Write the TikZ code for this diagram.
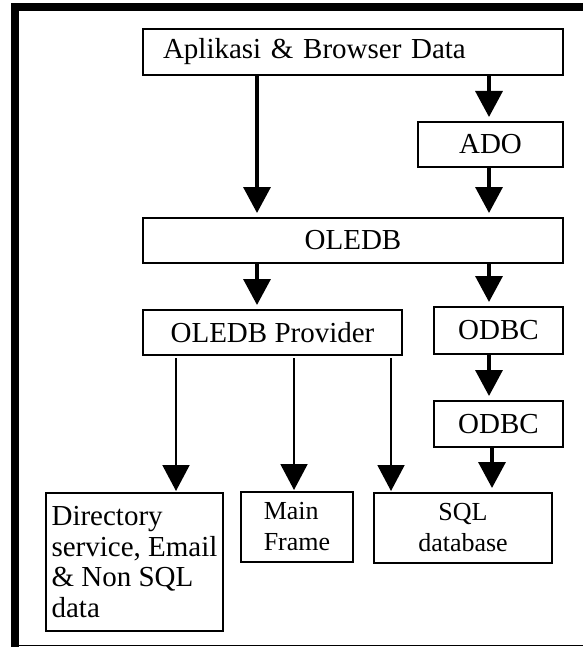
\documentclass[tikz,border=0pt]{standalone}
\usepackage{fontspec}
\setmainfont{Liberation Serif}
\usetikzlibrary{arrows.meta}
\begin{document}
\begin{tikzpicture}[x=1pt,y=-1pt,>={Triangle[length=26pt,width=27pt]},line join=miter,
	box/.style={draw,line width=2pt,inner sep=0pt,font=\fontsize{29}{30.5}\selectfont},
	small/.style={font=\fontsize{26}{31}\selectfont},
	flow/.style={->,line width=3.5pt,shorten >=4pt},
	feed/.style={->,line width=2pt,shorten <=2pt,shorten >=1pt}]
	\useasboundingbox (0,0) rectangle (583,647);
	% bingkai
	\draw[line width=8pt] (15,647)--(15,7)--(583,7);
	\draw[line width=1.5pt] (19,645.5)--(583,645.5);
	% kotak
	\node[box,minimum width=420pt,minimum height=46pt,text width=380pt,align=left] (app) at (353,52) {Aplikasi \& Browser Data};
	\node[box,minimum width=145pt,minimum height=45pt] (ado) at (490.5,144.5) {ADO};
	\node[box,minimum width=420pt,minimum height=45pt] (oledb) at (353,240.5) {OLEDB};
	\node[box,minimum width=259pt,minimum height=45pt] (prov) at (272.5,332.5) {OLEDB Provider};
	\node[box,minimum width=129pt,minimum height=47pt] (odbcA) at (498.5,330.5) {ODBC};
	\node[box,minimum width=129pt,minimum height=46pt] (odbcB) at (498.5,424) {ODBC};
	\node[box,minimum width=177pt,minimum height=138pt,align=left] (dir) at (134.5,562) {Directory\\service, Email\\\& Non SQL\\data};
	\node[box,small,minimum width=112pt,minimum height=70pt,align=left] (main) at (297,527) {Main\\Frame};
	\node[box,small,minimum width=178pt,minimum height=70pt,align=center] (sql) at (463,528) {SQL\\database};
	% kolom panah
	\coordinate (kiri) at (257,0);
	\coordinate (kanan) at (489,0);
	\coordinate (kanan2) at (492,0);
	\coordinate (p1) at (176,0);
	\coordinate (p2) at (294,0);
	\coordinate (p3) at (391,0);
	% panah
	\draw[flow] (kiri |- app.south) -- (kiri |- oledb.north);
	\draw[flow] (kanan |- app.south) -- (kanan |- ado.north);
	\draw[flow] (kanan |- ado.south) -- (kanan |- oledb.north);
	\draw[flow] (kiri |- oledb.south) -- (kiri |- prov.north);
	\draw[flow] (kanan |- oledb.south) -- (kanan |- odbcA.north);
	\draw[flow] (kanan |- odbcA.south) -- (kanan |- odbcB.north);
	\draw[flow] (kanan2 |- odbcB.south) -- (kanan2 |- sql.north);
	\draw[feed] (p1 |- prov.south) -- (p1 |- dir.north);
	\draw[feed] (p2 |- prov.south) -- (p2 |- main.north);
	\draw[feed] (p3 |- prov.south) -- (p3 |- sql.north);
\end{tikzpicture}
\end{document}
